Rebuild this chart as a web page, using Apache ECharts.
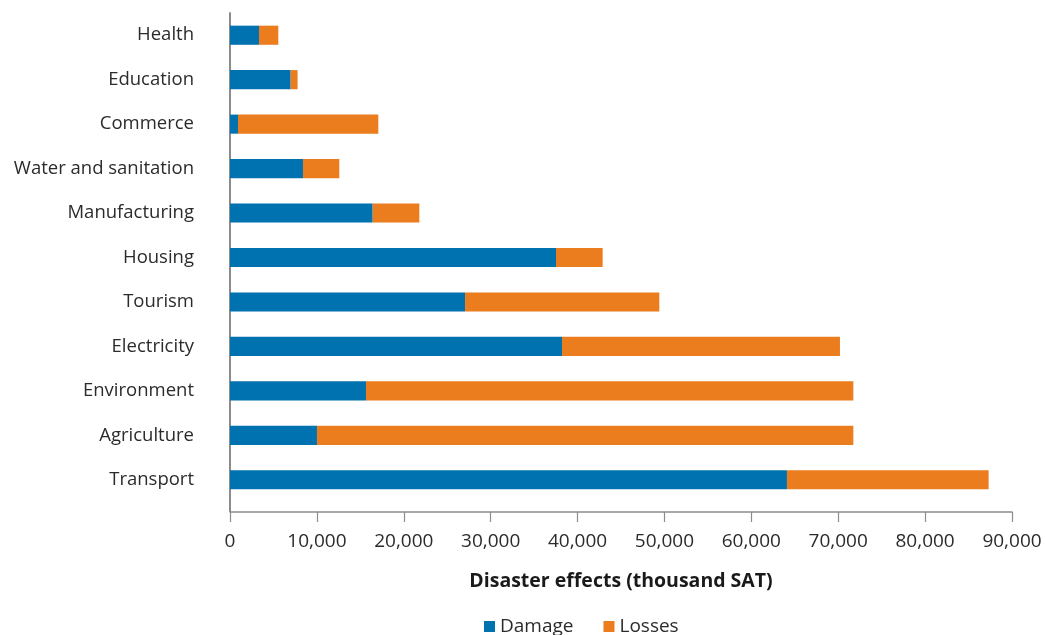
<!DOCTYPE html>
<html>
<head>
<meta charset="utf-8">
<title>Disaster effects by sector</title>
<script src="https://cdn.jsdelivr.net/npm/echarts@6/dist/echarts.min.js"></script>
<style>
  html, body { margin: 0; padding: 0; background: #ffffff; }
  #chart { width: 1045px; height: 635px; }
</style>
</head>
<body>
<div id="chart"></div>
<script>
// Sectors, top to bottom
const sectors = [
  'Health', 'Education', 'Commerce', 'Water and sanitation', 'Manufacturing',
  'Housing', 'Tourism', 'Electricity', 'Environment', 'Agriculture', 'Transport'
];
// Damage, thousand SAT
const damage = [3340, 6980, 920, 8400, 16420, 37520, 27050, 38210, 15650, 10010, 64100];
// Losses, thousand SAT
const losses = [2220, 800, 16150, 4180, 5370, 5370, 22360, 31990, 56090, 61730, 23210];
// Value axis ticks
const xTicks = { min: 0, max: 90000, interval: 10000 };

const font = '"Open Sans", "Noto Sans", sans-serif';
const axisGrey = '#8c8c8c';
const gridBox = { left: 230, right: 33, top: 13, bottom: 133 };
const xAxisDrop = 10; // value axis sits a little below the last band

const chart = echarts.init(document.getElementById('chart'), null, { renderer: 'canvas' });

chart.setOption({
  animation: false,
  textStyle: { fontFamily: font },
  grid: Object.assign({ containLabel: false }, gridBox),
  xAxis: {
    type: 'value',
    min: xTicks.min,
    max: xTicks.max,
    interval: xTicks.interval,
    offset: xAxisDrop,
    name: 'Disaster effects (thousand SAT)',
    nameLocation: 'middle',
    nameGap: 59,
    nameTextStyle: { fontFamily: font, fontSize: 19.5, fontWeight: 'bold', color: '#1a1a1a' },
    axisLine: { show: true, lineStyle: { color: axisGrey, width: 1.5 } },
    axisTick: { show: true, length: 10, lineStyle: { color: axisGrey, width: 1.2 } },
    axisLabel: {
      fontFamily: font, fontSize: 19, color: '#2b2b2b', margin: 20,
      formatter: v => v.toLocaleString('en-US')
    },
    splitLine: { show: false }
  },
  yAxis: {
    type: 'category',
    data: sectors,
    inverse: true,
    axisLine: { show: true, lineStyle: { color: axisGrey, width: 2 } },
    axisTick: { show: false },
    axisLabel: { fontFamily: font, fontSize: 18.5, color: '#2b2b2b', margin: 36 }
  },
  legend: {
    left: 479,
    top: 612,
    itemWidth: 11,
    itemHeight: 11,
    itemGap: 30,
    icon: 'rect',
    textStyle: { fontFamily: font, fontSize: 19, color: '#2b2b2b' },
    data: ['Damage', 'Losses']
  },
  // short piece joining the category axis line to the dropped value axis
  graphic: [{
    type: 'line',
    silent: true,
    shape: {
      x1: gridBox.left, y1: 635 - gridBox.bottom,
      x2: gridBox.left, y2: 635 - gridBox.bottom + xAxisDrop
    },
    style: { stroke: axisGrey, lineWidth: 2 }
  }],
  series: [
    {
      name: 'Damage', type: 'bar', stack: 'total', data: damage,
      barCategoryGap: '57%',
      itemStyle: { color: '#0072b0' }
    },
    {
      name: 'Losses', type: 'bar', stack: 'total', data: losses,
      barCategoryGap: '57%',
      itemStyle: { color: '#eb7d1e' }
    }
  ]
});
</script>
</body>
</html>
